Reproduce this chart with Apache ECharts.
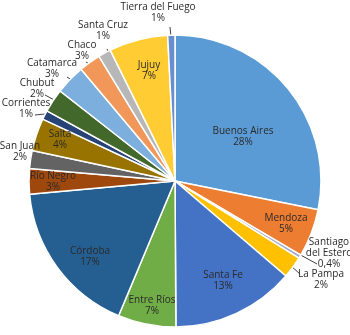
<!DOCTYPE html>
<html><head><meta charset="utf-8">
<script src="https://cdn.jsdelivr.net/npm/echarts@6/dist/echarts.min.js"></script>
<style>html,body{margin:0;padding:0;background:#fff}#c{width:350px;height:335px}</style>
</head><body><div id="c"></div>
<script>
const provinces = ['Buenos Aires','Mendoza','Santiago\ndel Estero','La Pampa','Santa Fe','Entre Ríos','Córdoba','Río Negro','San Juan','Salta','Corrientes','Chubut','Catamarca','Chaco','Santa Cruz','Jujuy','Tierra del Fuego'];
const shares = [28.1,5.3,0.4,2.4,13.6,6.4,17.2,2.8,2.0,3.6,1.0,2.6,3.3,2.4,1.4,6.5,0.8];
const shareLabels = ['28%','5%','0,4%','2%','13%','7%','17%','3%','2%','4%','1%','2%','3%','3%','1%','7%','1%'];
const colors = ['#5B9BD5','#ED7D31','#A3A9C9','#FFC000','#4472C4','#70AD47','#255E91','#9E480E','#636363','#997300','#264478','#43682B','#7CAFDD','#F1975A','#B7B7B7','#FFCD33','#698ED0'];

// label layout (text centre, optional leader line)
const labelAnchor = [[243,137],[286,224],[329,253],[321,280],[223,281],[152,306],[90,257],[53,182],[20,152],[60,140],[26,109],[37,89],[52,69],[82,51],[103,31],[149,71],[158,13]];
const leader = {2:[[317,264],[297,253]],3:[[300,274],[290,265]],8:[[30,158],[41,157]],10:[[35,115],[45,114]],11:[[45,95],[60,103]],12:[[67,77],[80,85]],13:[[86,62],[97,69]],14:[[107,49],[111,57]],16:[[170,27],[171,37]]};

const data = provinces.map((n,i)=>({
  name:n, value:shares[i],
  itemStyle:{color:colors[i]},
  label:{formatter:n+'\n'+shareLabels[i]},
  labelLine:{show: leader[i]!==undefined, lineStyle:{color:'#404040',width:1}}
}));

const chart = echarts.init(document.getElementById('c'));
chart.setOption({
  animation:false,
  series:[{
    type:'pie',
    center:[175,181],
    radius:146,
    startAngle:90,
    clockwise:true,
    avoidLabelOverlap:false,
    data:data,
    itemStyle:{borderColor:'#fff',borderWidth:1.5},
    label:{position:'outside',fontFamily:'Open Sans',fontSize:10,lineHeight:11,color:'#2a2a2a',align:'center'},
    labelLine:{show:true,length:5,length2:5},
    labelLayout:function(p){
      const i=p.dataIndex; const a=labelAnchor[i];
      const o={x:a[0],y:a[1],align:'center',verticalAlign:'middle'};
      if(leader[i]){const l=leader[i];o.labelLinePoints=[l[0],l[0],l[1]];}
      return o;
    }
  }]
});
</script></body></html>
